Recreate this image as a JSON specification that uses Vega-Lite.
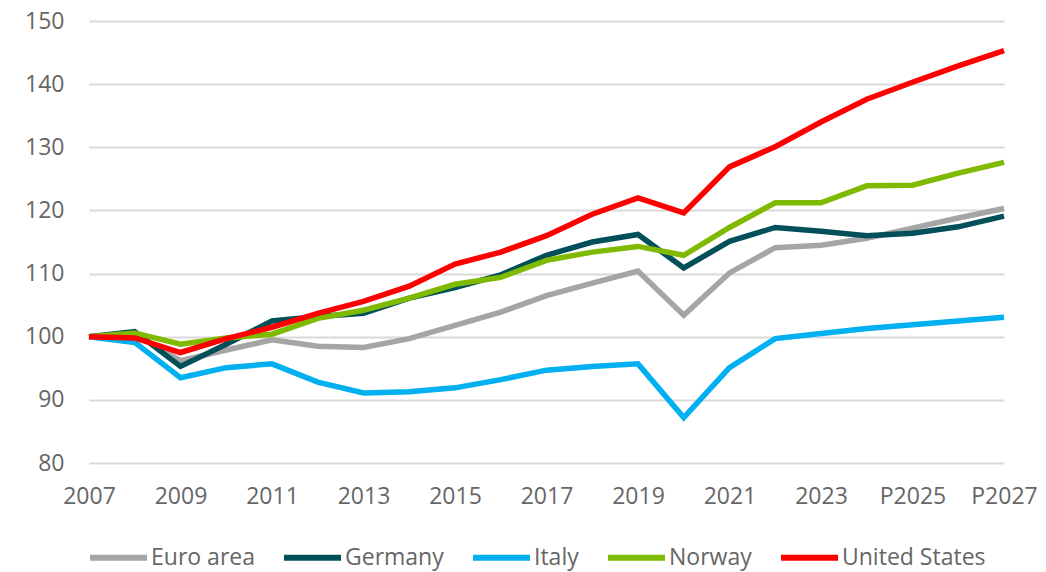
{
  "$schema": "https://vega.github.io/schema/vega-lite/v6.json",
  "width": 915,
  "height": 442,
  "autosize": "none",
  "padding": {"left": 89, "top": 21, "right": 42, "bottom": 109},
  "background": "white",
  "config": {
    "view": {"stroke": null},
    "font": "Open Sans",
    "axis": {"labelFont": "Open Sans", "labelColor": "#666666", "labelFontSize": 23}
  },
  "data": {
    "values": [
      {"year": 2007, "series": "Euro area", "value": 100},
      {"year": 2008, "series": "Euro area", "value": 100.4},
      {"year": 2009, "series": "Euro area", "value": 96.2},
      {"year": 2010, "series": "Euro area", "value": 97.9},
      {"year": 2011, "series": "Euro area", "value": 99.5},
      {"year": 2012, "series": "Euro area", "value": 98.5},
      {"year": 2013, "series": "Euro area", "value": 98.3},
      {"year": 2014, "series": "Euro area", "value": 99.7},
      {"year": 2015, "series": "Euro area", "value": 101.8},
      {"year": 2016, "series": "Euro area", "value": 103.9},
      {"year": 2017, "series": "Euro area", "value": 106.5},
      {"year": 2018, "series": "Euro area", "value": 108.5},
      {"year": 2019, "series": "Euro area", "value": 110.4},
      {"year": 2020, "series": "Euro area", "value": 103.4},
      {"year": 2021, "series": "Euro area", "value": 110.1},
      {"year": 2022, "series": "Euro area", "value": 114.1},
      {"year": 2023, "series": "Euro area", "value": 114.5},
      {"year": 2024, "series": "Euro area", "value": 115.6},
      {"year": 2025, "series": "Euro area", "value": 117.2},
      {"year": 2026, "series": "Euro area", "value": 118.8},
      {"year": 2027, "series": "Euro area", "value": 120.3},

      {"year": 2007, "series": "Germany", "value": 100},
      {"year": 2008, "series": "Germany", "value": 100.8},
      {"year": 2009, "series": "Germany", "value": 95.3},
      {"year": 2010, "series": "Germany", "value": 98.8},
      {"year": 2011, "series": "Germany", "value": 102.5},
      {"year": 2012, "series": "Germany", "value": 103.2},
      {"year": 2013, "series": "Germany", "value": 103.7},
      {"year": 2014, "series": "Germany", "value": 106.1},
      {"year": 2015, "series": "Germany", "value": 107.8},
      {"year": 2016, "series": "Germany", "value": 109.8},
      {"year": 2017, "series": "Germany", "value": 112.9},
      {"year": 2018, "series": "Germany", "value": 115.0},
      {"year": 2019, "series": "Germany", "value": 116.2},
      {"year": 2020, "series": "Germany", "value": 110.9},
      {"year": 2021, "series": "Germany", "value": 115.1},
      {"year": 2022, "series": "Germany", "value": 117.3},
      {"year": 2023, "series": "Germany", "value": 116.7},
      {"year": 2024, "series": "Germany", "value": 116.0},
      {"year": 2025, "series": "Germany", "value": 116.4},
      {"year": 2026, "series": "Germany", "value": 117.4},
      {"year": 2027, "series": "Germany", "value": 119.1},

      {"year": 2007, "series": "Italy", "value": 100},
      {"year": 2008, "series": "Italy", "value": 99.1},
      {"year": 2009, "series": "Italy", "value": 93.5},
      {"year": 2010, "series": "Italy", "value": 95.1},
      {"year": 2011, "series": "Italy", "value": 95.7},
      {"year": 2012, "series": "Italy", "value": 92.8},
      {"year": 2013, "series": "Italy", "value": 91.1},
      {"year": 2014, "series": "Italy", "value": 91.3},
      {"year": 2015, "series": "Italy", "value": 91.9},
      {"year": 2016, "series": "Italy", "value": 93.2},
      {"year": 2017, "series": "Italy", "value": 94.7},
      {"year": 2018, "series": "Italy", "value": 95.3},
      {"year": 2019, "series": "Italy", "value": 95.7},
      {"year": 2020, "series": "Italy", "value": 87.2},
      {"year": 2021, "series": "Italy", "value": 95.1},
      {"year": 2022, "series": "Italy", "value": 99.7},
      {"year": 2023, "series": "Italy", "value": 100.5},
      {"year": 2024, "series": "Italy", "value": 101.3},
      {"year": 2025, "series": "Italy", "value": 101.9},
      {"year": 2026, "series": "Italy", "value": 102.5},
      {"year": 2027, "series": "Italy", "value": 103.1},

      {"year": 2007, "series": "Norway", "value": 100},
      {"year": 2008, "series": "Norway", "value": 100.6},
      {"year": 2009, "series": "Norway", "value": 98.8},
      {"year": 2010, "series": "Norway", "value": 99.8},
      {"year": 2011, "series": "Norway", "value": 100.4},
      {"year": 2012, "series": "Norway", "value": 102.9},
      {"year": 2013, "series": "Norway", "value": 104.2},
      {"year": 2014, "series": "Norway", "value": 106.1},
      {"year": 2015, "series": "Norway", "value": 108.3},
      {"year": 2016, "series": "Norway", "value": 109.4},
      {"year": 2017, "series": "Norway", "value": 112.1},
      {"year": 2018, "series": "Norway", "value": 113.4},
      {"year": 2019, "series": "Norway", "value": 114.3},
      {"year": 2020, "series": "Norway", "value": 112.9},
      {"year": 2021, "series": "Norway", "value": 117.3},
      {"year": 2022, "series": "Norway", "value": 121.2},
      {"year": 2023, "series": "Norway", "value": 121.2},
      {"year": 2024, "series": "Norway", "value": 123.9},
      {"year": 2025, "series": "Norway", "value": 124.0},
      {"year": 2026, "series": "Norway", "value": 125.9},
      {"year": 2027, "series": "Norway", "value": 127.6},

      {"year": 2007, "series": "United States", "value": 100},
      {"year": 2008, "series": "United States", "value": 99.8},
      {"year": 2009, "series": "United States", "value": 97.5},
      {"year": 2010, "series": "United States", "value": 99.7},
      {"year": 2011, "series": "United States", "value": 101.5},
      {"year": 2012, "series": "United States", "value": 103.7},
      {"year": 2013, "series": "United States", "value": 105.6},
      {"year": 2014, "series": "United States", "value": 108.0},
      {"year": 2015, "series": "United States", "value": 111.5},
      {"year": 2016, "series": "United States", "value": 113.4},
      {"year": 2017, "series": "United States", "value": 116.0},
      {"year": 2018, "series": "United States", "value": 119.4},
      {"year": 2019, "series": "United States", "value": 122.0},
      {"year": 2020, "series": "United States", "value": 119.6},
      {"year": 2021, "series": "United States", "value": 126.9},
      {"year": 2022, "series": "United States", "value": 130.1},
      {"year": 2023, "series": "United States", "value": 134.0},
      {"year": 2024, "series": "United States", "value": 137.6},
      {"year": 2025, "series": "United States", "value": 140.3},
      {"year": 2026, "series": "United States", "value": 142.9},
      {"year": 2027, "series": "United States", "value": 145.3}
    ]
  },
  "mark": {"type": "line", "strokeWidth": 5.5, "strokeJoin": "miter"},
  "encoding": {
    "x": {
      "field": "year",
      "type": "quantitative",
      "scale": {"domain": [2007, 2027], "nice": false, "zero": false},
      "axis": {
        "title": null,
        "values": [2007, 2009, 2011, 2013, 2015, 2017, 2019, 2021, 2023, 2025, 2027],
        "labelExpr": "datum.value >= 2025 ? 'P' + datum.value : '' + datum.value",
        "domain": false,
        "ticks": false,
        "grid": false,
        "labelPadding": 22,
        "labelFlush": false,
        "labelOverlap": false
      }
    },
    "y": {
      "field": "value",
      "type": "quantitative",
      "scale": {"domain": [80, 150], "nice": false, "zero": false},
      "axis": {
        "title": null,
        "values": [80, 90, 100, 110, 120, 130, 140, 150],
        "domain": false,
        "ticks": false,
        "grid": true,
        "gridColor": "#d9d9d9",
        "gridWidth": 2,
        "labelPadding": 25
      }
    },
    "color": {
      "field": "series",
      "type": "nominal",
      "scale": {
        "domain": ["Euro area", "Germany", "Italy", "Norway", "United States"],
        "range": ["#A5A5A5", "#004F59", "#00B0F0", "#7FBA00", "#FF0000"]
      },
      "legend": {
        "orient": "none",
        "direction": "horizontal",
        "legendX": -2,
        "legendY": 505,
        "title": null,
        "symbolType": "stroke",
        "symbolSize": 3249,
        "symbolStrokeWidth": 6,
        "labelFont": "Open Sans",
        "labelFontSize": 23,
        "labelColor": "#666666",
        "labelOffset": 1,
        "columnPadding": 17
      }
    }
  }
}
